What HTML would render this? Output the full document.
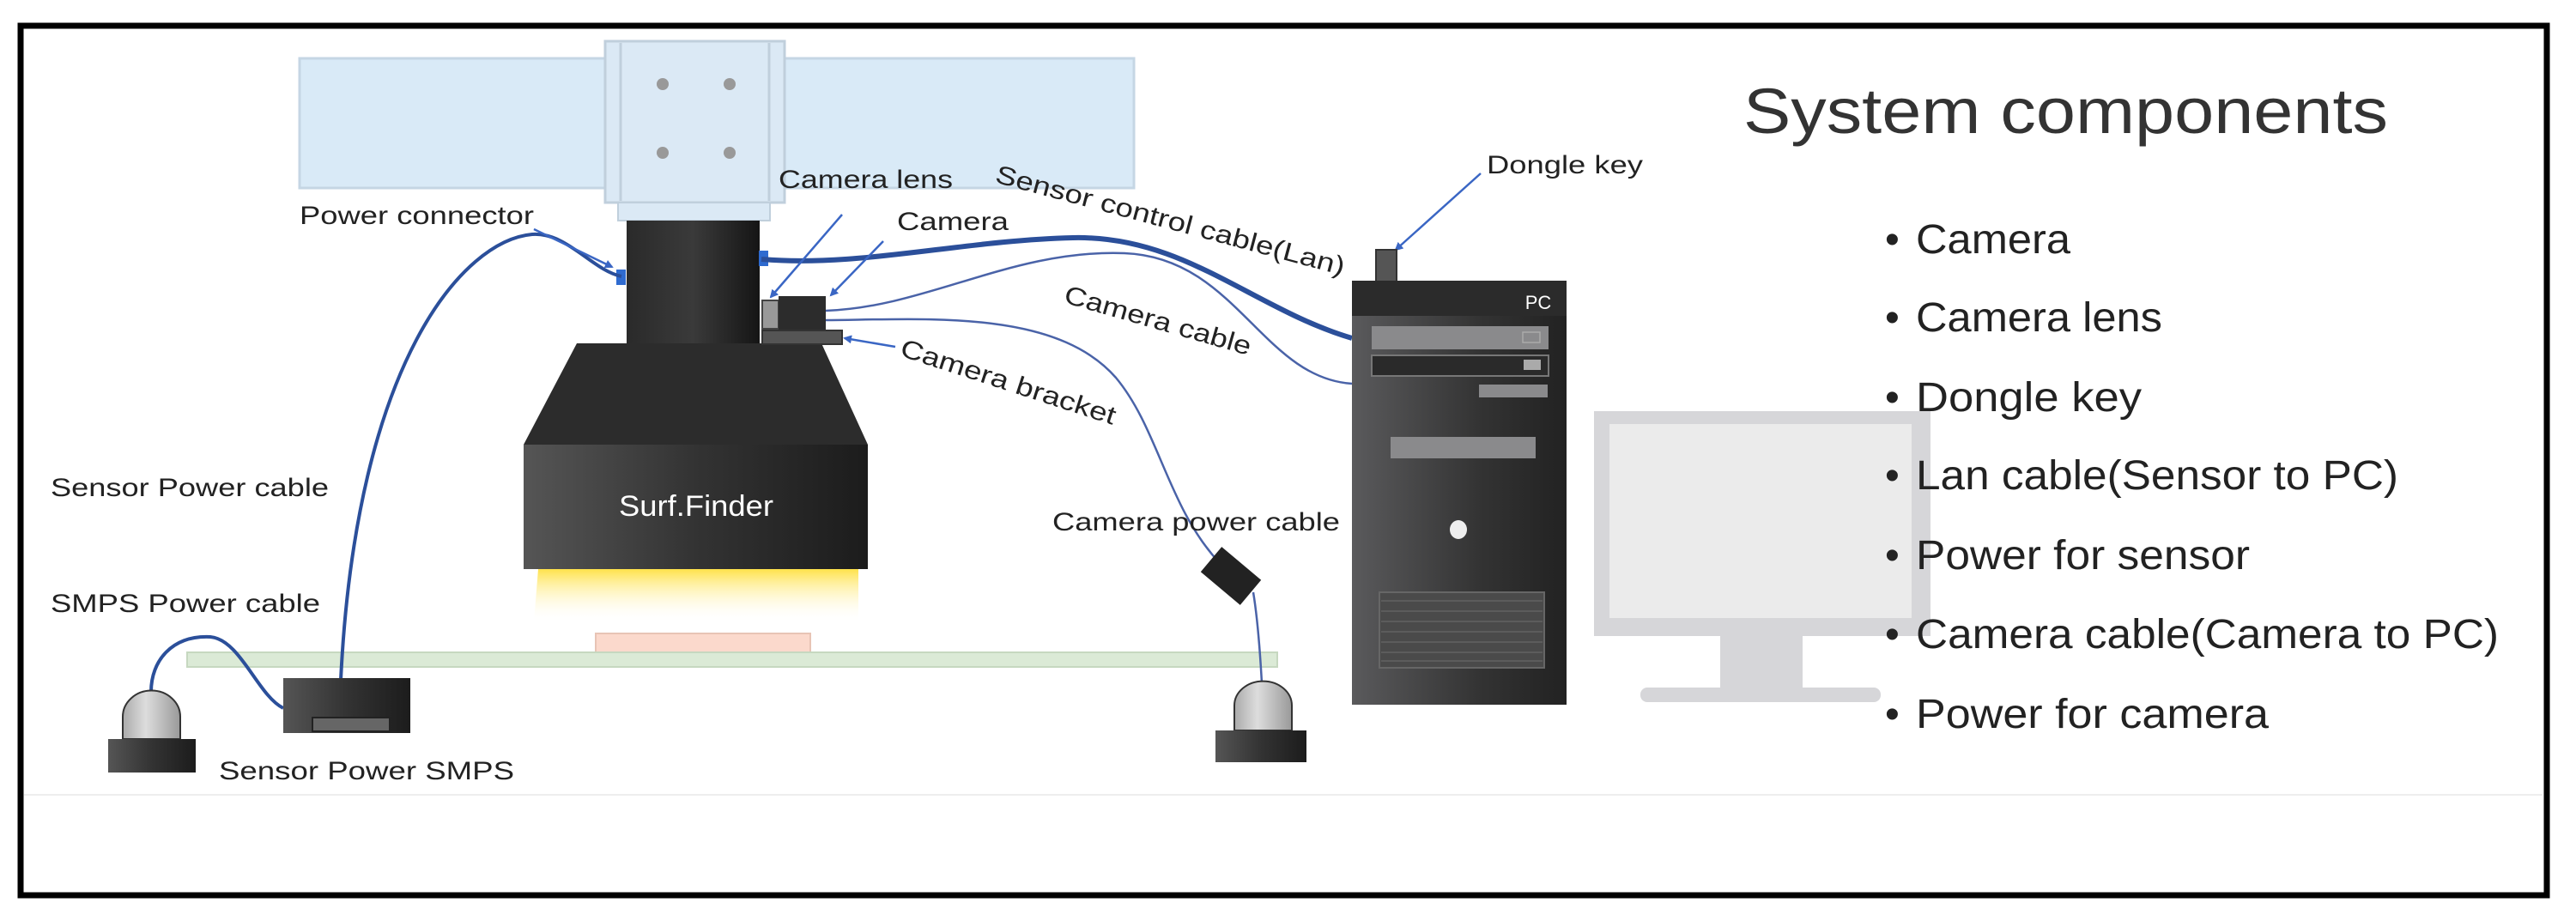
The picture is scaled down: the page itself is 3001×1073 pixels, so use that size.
<!DOCTYPE html>
<html><head><meta charset="utf-8"><style>
html,body{margin:0;padding:0;background:#fff}
svg{display:block}
text{font-family:"Liberation Sans",sans-serif;fill:#222}
</style></head><body>
<svg width="3001" height="1073" viewBox="0 0 3001 1073" xmlns="http://www.w3.org/2000/svg">
<defs>
<linearGradient id="blk" x1="0" x2="1" y1="0" y2="0"><stop offset="0" stop-color="#555"/><stop offset="0.5" stop-color="#333"/><stop offset="1" stop-color="#1c1c1c"/></linearGradient>
<linearGradient id="blk2" x1="0" x2="1"><stop offset="0" stop-color="#2a2a2a"/><stop offset="0.5" stop-color="#3a3a3a"/><stop offset="1" stop-color="#151515"/></linearGradient>
<linearGradient id="pc" x1="0" x2="1"><stop offset="0" stop-color="#5a5a5c"/><stop offset="0.6" stop-color="#333"/><stop offset="1" stop-color="#222"/></linearGradient>
<linearGradient id="glow" x1="0" x2="0" y1="0" y2="1"><stop offset="0" stop-color="#ffe24a"/><stop offset="1" stop-color="#fff" stop-opacity="0"/></linearGradient>
<linearGradient id="dome" x1="0" x2="1"><stop offset="0" stop-color="#aaa"/><stop offset="0.4" stop-color="#ddd"/><stop offset="1" stop-color="#999"/></linearGradient>
<marker id="ar" markerWidth="10" markerHeight="10" refX="8" refY="5" orient="auto" markerUnits="userSpaceOnUse"><path d="M0,0 L10,5 L0,10 z" fill="#3a66c4"/></marker>
</defs>
<rect x="0" y="0" width="3001" height="1073" fill="#fff"/>
<rect x="24" y="30" width="2943" height="1013" fill="none" stroke="#000" stroke-width="7"/>
<line x1="28" y1="926" x2="2962" y2="926" stroke="#eee" stroke-width="2"/>

<!-- rail -->
<rect x="349" y="68" width="972" height="151" fill="#d9eaf7" stroke="#c5d6e4" stroke-width="3"/>
<rect x="705" y="48" width="209" height="188" fill="#dbe9f5" stroke="#c0cfdc" stroke-width="3"/>
<line x1="723" y1="50" x2="723" y2="234" stroke="#c0cfdc" stroke-width="3"/>
<line x1="896" y1="50" x2="896" y2="234" stroke="#c0cfdc" stroke-width="3"/>
<rect x="720" y="236" width="177" height="21" fill="#dbe9f5" stroke="#c0cfdc" stroke-width="2"/>
<circle cx="772" cy="98" r="7" fill="#999"/><circle cx="850" cy="98" r="7" fill="#999"/>
<circle cx="772" cy="178" r="7" fill="#999"/><circle cx="850" cy="178" r="7" fill="#999"/>

<!-- sensor -->
<rect x="730" y="257" width="155" height="145" fill="url(#blk2)"/>
<polygon points="672,400 957,400 1011,518 610,518" fill="#2c2c2c"/>
<rect x="610" y="518" width="401" height="145" fill="url(#blk)"/>
<polygon points="627,663 1000,663 1000,725 622,725" fill="url(#glow)"/>
<text x="811" y="601" font-size="34" fill="#fff" style="fill:#fff" text-anchor="middle" textLength="180" lengthAdjust="spacingAndGlyphs">Surf.Finder</text>
<rect x="694" y="738" width="250" height="23" fill="#fbd9cc" stroke="#e8c4b5" stroke-width="2"/>
<rect x="218" y="760" width="1270" height="17" fill="#dbead6" stroke="#c6d8c0" stroke-width="2"/>

<!-- camera -->
<rect x="888" y="350" width="19" height="33" fill="#999" stroke="#444" stroke-width="2"/>
<rect x="907" y="345" width="55" height="40" fill="#2c2c2c"/>
<rect x="888" y="385" width="93" height="16" fill="#555" stroke="#333" stroke-width="2"/>
<rect x="718" y="314" width="11" height="18" fill="#2f6bd0"/>
<rect x="884" y="292" width="11" height="18" fill="#2f6bd0"/>

<!-- cables -->
<g fill="none" stroke="#2b4f9a">
<path d="M724,322 C690,315 660,270 620,273 C540,280 415,420 397,792" stroke-width="4"/>
<path d="M887,302 C1000,312 1120,280 1250,277 C1380,274 1460,360 1575,394" stroke-width="6"/>
<path d="M962,362 C1080,358 1180,290 1310,295 C1440,300 1470,440 1575,447" stroke-width="2.5" stroke="#4a63a8"/>
<path d="M962,373 C1080,372 1230,360 1300,440 C1350,500 1360,590 1420,655" stroke-width="2.5" stroke="#4a63a8"/>
<path d="M1460,690 C1465,720 1468,760 1470,796" stroke-width="2.5" stroke="#4a63a8"/>
<path d="M330,825 C300,810 280,745 245,742 C200,740 176,770 176,806" stroke-width="4"/>
</g>
<rect x="1404" y="652" width="60" height="38" fill="#222" transform="rotate(40 1434 671)"/>

<!-- arrows -->
<g stroke="#3a66c4" stroke-width="2.5" fill="none" marker-end="url(#ar)">
<line x1="622" y1="267" x2="713" y2="311"/>
<line x1="981" y1="250" x2="898" y2="346"/>
<line x1="1029" y1="281" x2="968" y2="344"/>
<line x1="1043" y1="404" x2="984" y2="394"/>
<line x1="1725" y1="202" x2="1626" y2="291"/>
</g>

<!-- SMPS & lamps -->
<rect x="330" y="790" width="148" height="64" fill="url(#blk)"/>
<rect x="364" y="836" width="90" height="16" fill="#666" stroke="#222" stroke-width="2"/>
<path d="M143,861 L143,835 A33,30 0 0 1 210,835 L210,861 z" fill="url(#dome)" stroke="#333" stroke-width="2"/>
<rect x="126" y="861" width="102" height="39" fill="url(#blk)"/>
<path d="M1438,851 L1438,822 A33,28 0 0 1 1505,822 L1505,851 z" fill="url(#dome)" stroke="#333" stroke-width="2"/>
<rect x="1416" y="851" width="106" height="37" fill="url(#blk)"/>

<!-- PC -->
<rect x="1603" y="291" width="24" height="38" fill="#555" stroke="#333" stroke-width="2"/>
<rect x="1575" y="327" width="250" height="494" fill="url(#pc)"/>
<rect x="1575" y="327" width="250" height="41" fill="#2b2b2b"/>
<text x="1792" y="360" font-size="22" style="fill:#fff" text-anchor="middle">PC</text>
<rect x="1598" y="380" width="206" height="27" fill="#8a8a8c"/>
<rect x="1774" y="387" width="20" height="12" fill="none" stroke="#aaa" stroke-width="1.5"/>
<rect x="1598" y="414" width="206" height="24" fill="#2a2a2a" stroke="#777" stroke-width="2"/>
<rect x="1775" y="419" width="20" height="12" fill="#aaa"/>
<rect x="1723" y="448" width="80" height="15" fill="#8a8a8c"/>
<rect x="1620" y="509" width="169" height="25" fill="#8a8a8c"/>
<ellipse cx="1699" cy="617" rx="10" ry="11" fill="#eee"/>
<rect x="1607" y="690" width="192" height="88" fill="#4a4a4a" stroke="#666" stroke-width="2"/>
<g stroke="#5c5c5c" stroke-width="2"><line x1="1609" y1="700" x2="1797" y2="700"/><line x1="1609" y1="712" x2="1797" y2="712"/><line x1="1609" y1="724" x2="1797" y2="724"/><line x1="1609" y1="736" x2="1797" y2="736"/><line x1="1609" y1="748" x2="1797" y2="748"/><line x1="1609" y1="760" x2="1797" y2="760"/><line x1="1609" y1="770" x2="1797" y2="770"/></g>

<!-- monitor -->
<rect x="1857" y="479" width="392" height="262" fill="#d6d6d9"/>
<rect x="1875" y="494" width="352" height="226" fill="#ebebeb"/>
<rect x="2004" y="741" width="96" height="60" fill="#d6d6d9"/>
<rect x="1911" y="801" width="280" height="17" rx="8" fill="#d6d6d9"/>

<!-- labels -->
<g font-size="30">
<text x="349" y="261" textLength="273" lengthAdjust="spacingAndGlyphs">Power connector</text>
<text x="907" y="219" textLength="203" lengthAdjust="spacingAndGlyphs">Camera lens</text>
<text x="1045" y="268" textLength="130" lengthAdjust="spacingAndGlyphs">Camera</text>
<text x="1158" y="212" transform="rotate(15 1158 212)" textLength="420" lengthAdjust="spacingAndGlyphs">Sensor control cable(Lan)</text>
<text x="1238" y="352" transform="rotate(16 1238 352)" textLength="225" lengthAdjust="spacingAndGlyphs">Camera cable</text>
<text x="1047" y="414" transform="rotate(18 1047 414)" textLength="262" lengthAdjust="spacingAndGlyphs">Camera bracket</text>
<text x="1226" y="618" textLength="335" lengthAdjust="spacingAndGlyphs">Camera power cable</text>
<text x="59" y="578" textLength="324" lengthAdjust="spacingAndGlyphs">Sensor Power cable</text>
<text x="59" y="713" textLength="314" lengthAdjust="spacingAndGlyphs">SMPS Power cable</text>
<text x="255" y="908" textLength="344" lengthAdjust="spacingAndGlyphs">Sensor Power SMPS</text>
<text x="1732" y="202" textLength="182" lengthAdjust="spacingAndGlyphs">Dongle key</text>
</g>
<text x="2031" y="155" font-size="74" style="fill:#333" textLength="751" lengthAdjust="spacingAndGlyphs">System  components</text>
<g font-size="48" style="fill:#222">
<text x="2196" y="295">•</text><text x="2232" y="295" textLength="180" lengthAdjust="spacingAndGlyphs">Camera</text>
<text x="2196" y="386">•</text><text x="2232" y="386" textLength="287" lengthAdjust="spacingAndGlyphs">Camera lens</text>
<text x="2196" y="479">•</text><text x="2232" y="479" textLength="263" lengthAdjust="spacingAndGlyphs">Dongle key</text>
<text x="2196" y="570">•</text><text x="2232" y="570" textLength="562" lengthAdjust="spacingAndGlyphs">Lan cable(Sensor to PC)</text>
<text x="2196" y="663">•</text><text x="2232" y="663" textLength="389" lengthAdjust="spacingAndGlyphs">Power for sensor</text>
<text x="2196" y="755">•</text><text x="2232" y="755" textLength="679" lengthAdjust="spacingAndGlyphs">Camera cable(Camera to PC)</text>
<text x="2196" y="848">•</text><text x="2232" y="848" textLength="411" lengthAdjust="spacingAndGlyphs">Power for camera</text>
</g>
</svg>
</body></html>
